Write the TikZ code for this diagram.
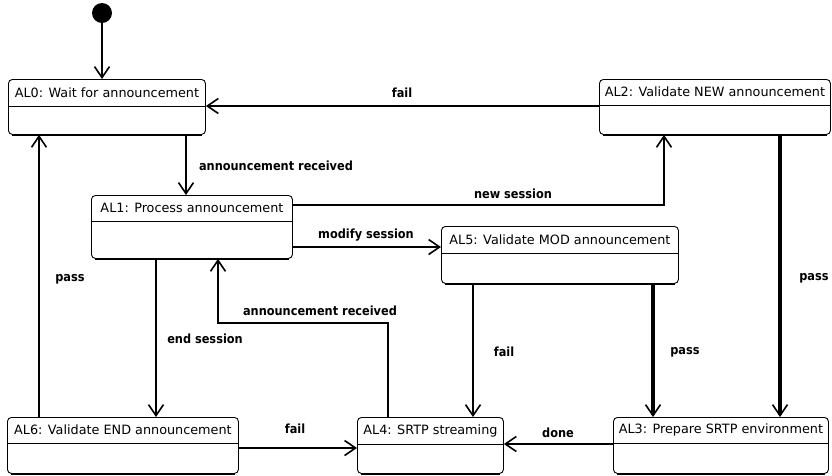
\documentclass[tikz,border=0pt]{standalone}
\usepackage{fontspec}
\setmainfont{DejaVu Sans}
\newfontfamily\labelfont{DejaVu Sans Condensed}[BoldFont={DejaVu Sans Condensed Bold}]
\usetikzlibrary{arrows.meta,calc}

\tikzset{
  statebox/.style={draw, line width=0.9pt, rounded corners=4pt, inner sep=0pt, anchor=north west},
  statetitle/.style={font=\fontsize{12.8}{14}\selectfont, inner sep=0pt},
  trans/.style={line width=2pt, -{Straight Barb[length=11pt,width=15pt,line width=1.6pt]}},
  heavy/.style={trans, line width=3.2pt},
  medium/.style={trans, line width=2.6pt},
  tlabel/.style={font=\labelfont\bfseries\fontsize{12.6}{14}\selectfont, inner sep=0pt},
}

% state: name, left, top, right, bottom, divider, title
\newcommand\umlstate[7]{%
  \node[statebox, minimum width={(#4-#2)*1pt}, minimum height={(#5-#3)*1pt}] (#1) at (#2,#3) {};
  \draw[line width=1.6pt] ($(#1.south west)+(4,0)$) -- ($(#1.south east)+(-4,0)$);
  \draw[line width=0.9pt] (#1.west |- 0,#6) -- (#1.east |- 0,#6);
  \node[statetitle] (#1t) at ($(#1.north)!0.5!(#1.north |- 0,#6)$) {#7};
}

\begin{document}
\begin{tikzpicture}[x=1pt,y=-1pt]
  \useasboundingbox (0,0) rectangle (832,475);

  % initial pseudo-state
  \coordinate (initc) at (102,13);
  \fill (initc) circle (10);

  % states
  \umlstate{al0}{8}{79}{205}{134}{106}{AL0: Wait for announcement}
  \umlstate{al1}{91}{195}{292}{258}{221}{AL1: Process announcement}
  \umlstate{al2}{599}{79}{830}{134}{105}{AL2: Validate NEW announcement}
  \umlstate{al5}{441}{226}{678}{283}{253}{AL5: Validate MOD announcement}
  \umlstate{al6}{7}{417}{238}{473}{443}{AL6: Validate END announcement}
  \umlstate{al4}{357}{417}{503}{473}{444}{AL4: SRTP streaming}
  \umlstate{al3}{613}{417}{828}{473}{443}{AL3: Prepare SRTP environment}

  % transitions
  \draw[trans] ($(initc)+(0,10)$) -- (al0.north -| 102,0);

  \draw[medium] (al0.south -| 186,0) -- (al1.north -| 186,0);
  \node[tlabel] (arl0) at (276,166) {announcement received};

  \draw[trans] (al2.west |- 0,106) -- (al0.east |- 0,106);
  \node[tlabel] (f1) at (402,93) {fail};

  \coordinate (ns) at (664,205);
  \draw[trans] (al1.east |- ns) -- (ns) -- (al2.south -| ns);
  \node[tlabel] (nsl) at (513,194) {new session};

  \draw[trans] (al1.east |- 0,247) -- (al5.west |- 0,247);
  \node[tlabel] (msl) at (366,235) {modify session};

  \draw[trans] (al1.south -| 156,0) -- (al6.north -| 156,0);
  \node[tlabel] (esl) at (205,339) {end session};

  \coordinate (ar1) at (388,323);
  \coordinate (ar2) at (218,323);
  \draw[medium] (al4.north -| ar1) -- (ar1) -- (ar2) -- (al1.south -| ar2);
  \node[tlabel] (arl) at (320,311) {announcement received};

  \draw[trans] (al6.north -| 39,0) -- (al0.south -| 39,0);
  \node[tlabel] (p1) at (70,279) {pass};

  \draw[trans] (al6.east |- 0,448) -- (al4.west |- 0,448);
  \node[tlabel] (f2) at (295,429) {fail};

  \draw[trans] (al5.south -| 473,0) -- (al4.north -| 473,0);
  \node[tlabel] (f3) at (504,352) {fail};

  \draw[heavy] (al5.south -| 653,0) -- (al3.north -| 653,0);
  \node[tlabel] (p2) at (685,352) {pass};

  \draw[heavy] (al2.south -| 780,0) -- (al3.north -| 780,0);
  \node[tlabel] (p3) at (814,278) {pass};

  \draw[trans] (al3.west |- 0,444) -- (al4.east |- 0,444);
  \node[tlabel] (dl) at (558,433) {done};
\end{tikzpicture}
\end{document}
